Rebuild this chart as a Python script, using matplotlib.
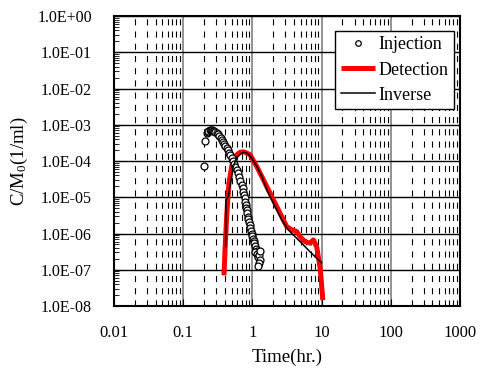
import numpy as np
import matplotlib
matplotlib.use('Agg')
import matplotlib.pyplot as plt
from matplotlib.ticker import LogLocator, FixedLocator, FixedFormatter, NullFormatter

# ---------------- data ----------------
inj_x = [0.202, 0.207,
         0.219, 0.225, 0.232, 0.240, 0.249, 0.258, 0.268, 0.280, 0.292, 0.305,
         0.318, 0.332, 0.346, 0.360, 0.375, 0.391, 0.407, 0.425, 0.443, 0.462,
         0.482, 0.502, 0.523, 0.545, 0.568, 0.593, 0.618, 0.645, 0.672, 0.700,
         0.720, 0.740, 0.761, 0.782, 0.793, 0.805, 0.816, 0.827, 0.843, 0.860,
         0.876, 0.893, 0.912, 0.933, 0.955, 0.977, 0.998, 1.02, 1.04, 1.065,
         1.09, 1.12, 1.154, 1.10, 1.18, 1.217, 1.25, 1.288, 1.24, 1.22, 1.29]
inj_y = [7.1e-5, 3.5e-4,
         6.0e-4, 6.5e-4, 6.8e-4, 6.95e-4, 7.0e-4, 6.95e-4, 6.85e-4, 6.6e-4, 6.3e-4, 6.0e-4,
         5.4e-4, 4.8e-4, 4.3e-4, 3.9e-4, 3.4e-4, 2.95e-4, 2.6e-4, 2.3e-4, 1.95e-4, 1.65e-4,
         1.42e-4, 1.22e-4, 1.0e-4, 8.4e-5, 6.9e-5, 5.8e-5, 4.6e-5, 3.6e-5, 2.8e-5, 2.2e-5,
         1.75e-5, 1.4e-5, 1.15e-5, 9.5e-6, 7.6e-6, 6.2e-6, 5.2e-6, 4.5e-6, 3.6e-6, 2.9e-6,
         2.45e-6, 2.1e-6, 1.7e-6, 1.4e-6, 1.2e-6, 1.0e-6, 8.3e-7, 7.0e-7, 6.2e-7, 5.4e-7,
         4.5e-7, 3.8e-7, 3.2e-7, 3.0e-7, 2.8e-7, 2.3e-7, 2.6e-7, 1.86e-7, 1.5e-7, 1.26e-7, 3.2e-7]

det_x = [0.389, 0.402, 0.425, 0.459, 0.502, 0.561, 0.662, 0.740, 0.782, 0.923,
         1.154, 1.363, 1.70, 2.12, 2.65, 3.13, 3.70, 4.37, 4.88, 5.75,
         6.80, 7.59, 8.49, 8.96, 9.48, 9.80, 10.03, 10.2, 10.4]
det_y = [7e-8, 3.5e-7, 3.0e-6, 2.5e-5, 7.1e-5, 1.35e-4, 1.74e-4, 1.79e-4, 1.74e-4, 1.5e-4,
         7.1e-5, 3.77e-5, 1.61e-5, 6.9e-6, 2.95e-6, 1.55e-6, 1.26e-6, 1.13e-6, 8.2e-7, 5.97e-7,
         5.4e-7, 6.65e-7, 4.34e-7, 2.3e-7, 1.2e-7, 6.4e-8, 3.4e-8, 2.5e-8, 1.45e-8]

inv_x = [0.411, 0.415, 0.449, 0.491, 0.530, 0.593, 0.700, 0.764, 0.850, 0.977,
         1.154, 1.363, 1.61, 2.12, 2.65, 3.30, 4.13, 5.16, 6.43, 8.03, 10.03]
inv_y = [4.3e-7, 8.5e-6, 1.05e-5, 3.05e-5, 7.1e-5, 1.22e-4, 1.68e-4, 1.74e-4, 1.62e-4, 1.2e-4,
         7.2e-5, 3.8e-5, 1.61e-5, 5.6e-6, 2.38e-6, 1.26e-6, 8.2e-7, 5.4e-7, 3.5e-7, 2.3e-7, 1.56e-7]

x_ticks = [0.01, 0.1, 1, 10, 100, 1000]
x_tick_labels = ['0.01', '0.1', '1', '10', '100', '1000']
y_ticks = [1e-8, 1e-7, 1e-6, 1e-5, 1e-4, 1e-3, 1e-2, 1e-1, 1e0]
y_tick_labels = ['1.0E-08', '1.0E-07', '1.0E-06', '1.0E-05', '1.0E-04',
                 '1.0E-03', '1.0E-02', '1.0E-01', '1.0E+00']

# ---------------- style ----------------
plt.rcParams['font.family'] = ['Liberation Serif', 'DejaVu Serif']
plt.rcParams['mathtext.fontset'] = 'custom'
plt.rcParams['mathtext.rm'] = 'Liberation Serif'
plt.rcParams['mathtext.it'] = 'Liberation Serif:italic'

fig = plt.figure(figsize=(4.83, 3.68), dpi=100)
ax = fig.add_axes([114/483, 62/368, 346/483, 290/368])
ax.set_xscale('log')
ax.set_yscale('log')
ax.set_xlim(0.01, 1000)
ax.set_ylim(1e-8, 1)

ax.set_axisbelow(True)
ax.xaxis.set_major_locator(FixedLocator(x_ticks))
ax.xaxis.set_major_formatter(FixedFormatter(x_tick_labels))
ax.yaxis.set_major_locator(FixedLocator(y_ticks))
ax.yaxis.set_major_formatter(FixedFormatter(y_tick_labels))
ax.xaxis.set_minor_locator(LogLocator(base=10, subs=np.arange(2, 10), numticks=100))
ax.yaxis.set_minor_locator(LogLocator(base=10, subs=np.arange(2, 10), numticks=100))
ax.xaxis.set_minor_formatter(NullFormatter())
ax.yaxis.set_minor_formatter(NullFormatter())

ax.xaxis.grid(True, which='major', color='#808080', lw=1.2)
ax.yaxis.grid(True, which='major', color='black', lw=1.0)
ax.xaxis.grid(True, which='minor', color='black', lw=0.8, linestyle=(0, (5.5, 5.5)))

ax.tick_params(axis='both', which='both', direction='in')
ax.tick_params(axis='y', which='major', length=5, pad=16, labelsize=11.5)
ax.tick_params(axis='y', which='minor', length=3.5)
ax.tick_params(axis='x', which='major', length=5, pad=14, labelsize=12)
ax.tick_params(axis='x', which='minor', length=0)
for s in ax.spines.values():
    s.set_linewidth(1.5)

ax.plot(det_x, det_y, color='#ff0000', lw=3.6, solid_capstyle='butt', zorder=2, label='Detection')
ax.plot(inj_x, inj_y, linestyle='none', marker='o', ms=5, mfc='white', mec='black', mew=0.9,
        zorder=3, label='Injection')
ax.plot(inv_x, inv_y, color='black', lw=1.1, zorder=4, label='Inverse')

h, l = ax.get_legend_handles_labels()
order = [1, 0, 2]
leg = ax.legend([h[i] for i in order], [l[i] for i in order], loc='upper right',
                bbox_to_anchor=(0.983, 0.948), borderaxespad=0, fontsize=13,
                frameon=True, fancybox=False, edgecolor='black', framealpha=1,
                handlelength=1.9, handletextpad=0.2, labelspacing=0.45,
                borderpad=0.3, markerscale=0.8)
leg.get_frame().set_linewidth(1.0)

ax.set_xlabel('Time(hr.)', fontsize=13.5, labelpad=5)
ax.set_ylabel('C/M$_0$(1/ml)', fontsize=13.5, labelpad=5)

fig.savefig('out.png', dpi=100)
